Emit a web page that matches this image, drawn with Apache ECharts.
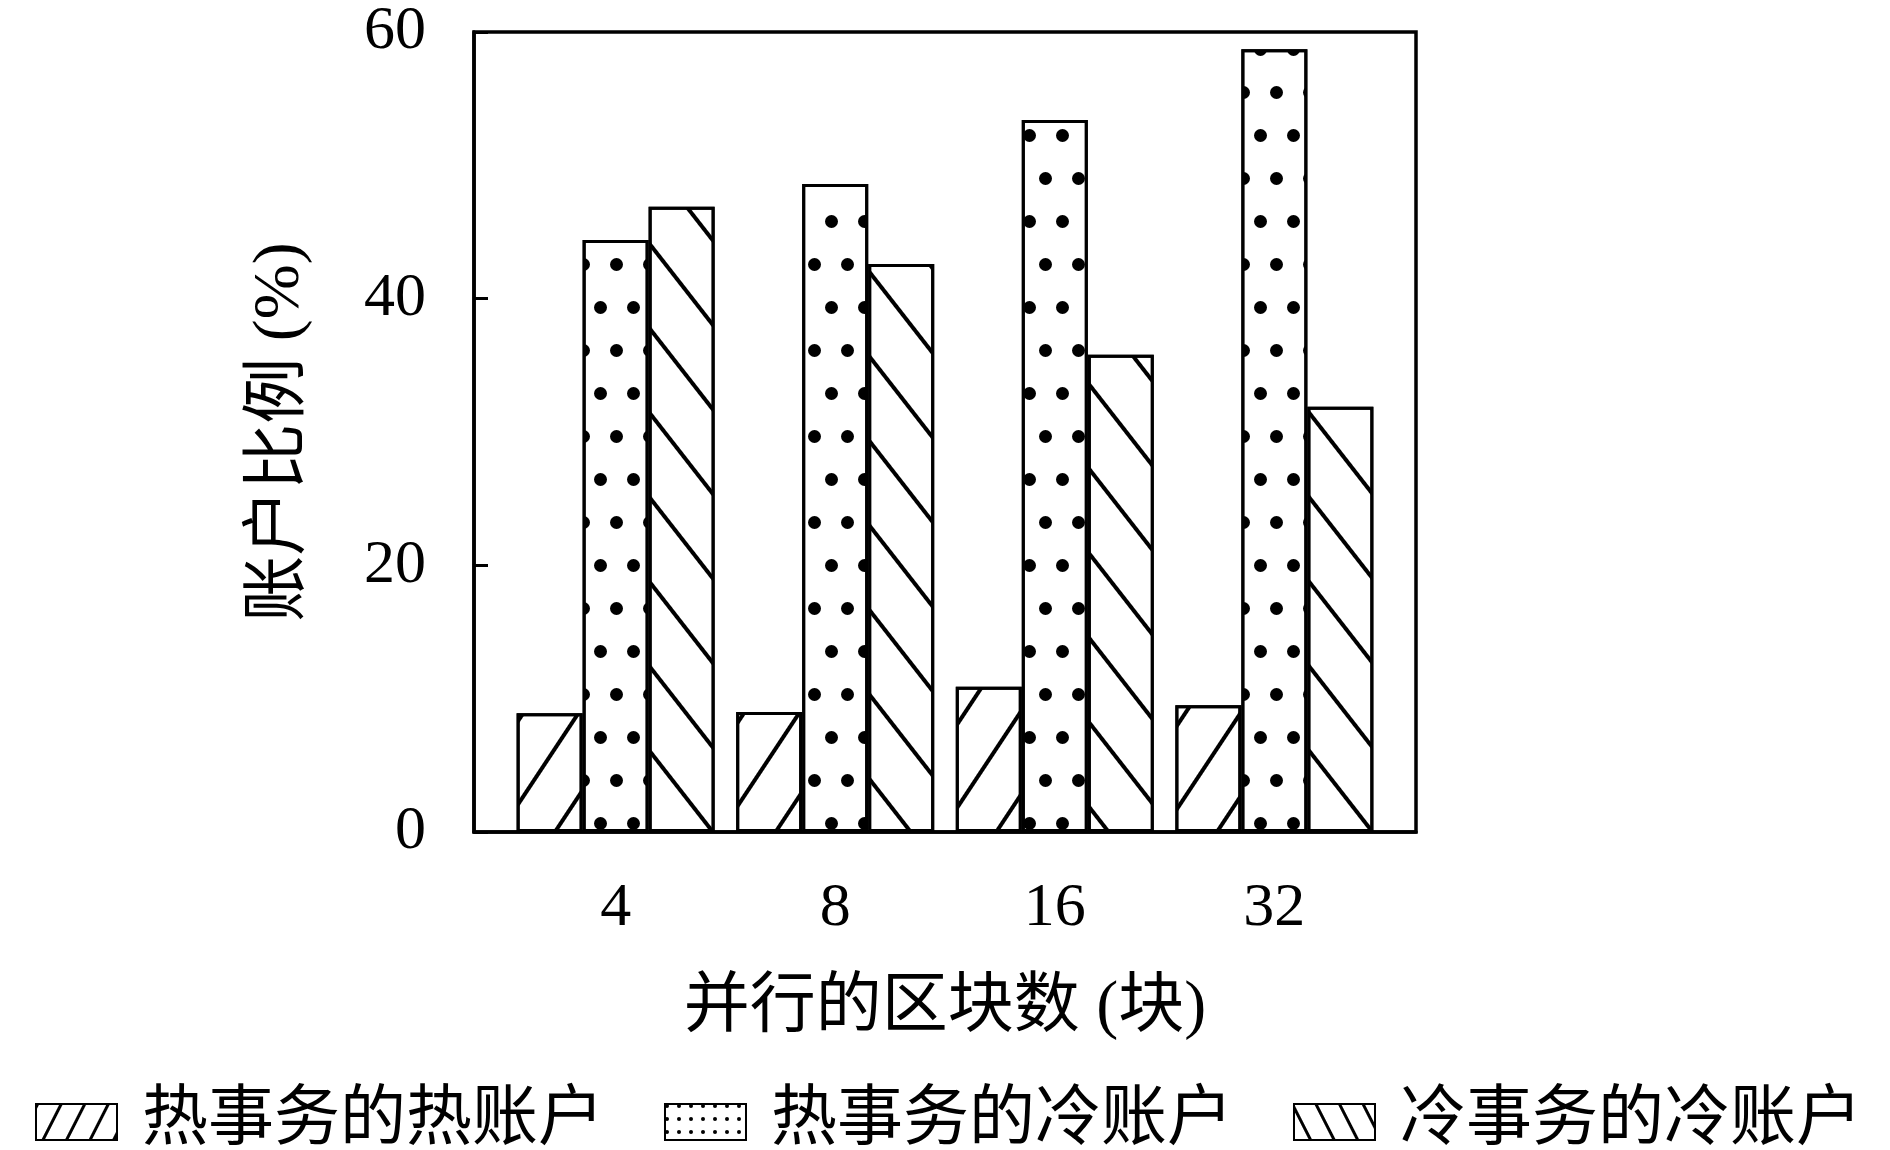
<!DOCTYPE html>
<html>
<head>
<meta charset="utf-8">
<title>账户比例</title>
<script src="https://cdn.jsdelivr.net/npm/echarts@6/dist/echarts.min.js"></script>
<style>
  html, body { margin: 0; padding: 0; background: #fff; }
  #chart { width: 1890px; height: 1150px; }
</style>
</head>
<body>
<div id="chart"></div>
<script>
// 数据
var blockCounts = ['4', '8', '16', '32'];
var hotTxHotAcc = [8.9, 9.0, 10.9, 9.5];
var hotTxColdAcc = [44.4, 48.6, 53.4, 58.7];
var coldTxColdAcc = [46.9, 42.6, 35.8, 31.9];
var yTicks = [0, 20, 40, 60];
var seriesNames = ['热事务的热账户', '热事务的冷账户', '冷事务的冷账户'];

var FONT = '"Liberation Serif", "Noto Sans CJK SC", serif';

// 纹理
var slashDecal = { symbol: 'rect', color: '#000', dashArrayX: [1, 0], dashArrayY: [4, 42], rotation: -0.986 };
var dotDecal = { symbol: 'circle', color: '#000', symbolSize: 1, dashArrayX: [[13, 20], [0, 16, 13, 4]], dashArrayY: [13, 30] };
var backDecal = { symbol: 'rect', color: '#000', dashArrayX: [1, 0], dashArrayY: [4, 48], rotation: 0.908 };
var decals = [slashDecal, dotDecal, backDecal];

// 图例里用更密的纹理
var legendDecals = [
  { symbol: 'rect', color: '#000', dashArrayX: [1, 0], dashArrayY: [3, 18], rotation: -1.1 },
  { symbol: 'circle', color: '#000', symbolSize: 1, dashArrayX: [4, 8], dashArrayY: [4, 9] },
  { symbol: 'rect', color: '#000', dashArrayX: [1, 0], dashArrayY: [3, 18], rotation: 1.1 }
];

function toPoints(arr) {
  return arr.map(function (v, i) { return [i + 1, v]; });
}
var allValues = [hotTxHotAcc, hotTxColdAcc, coldTxColdAcc];

var series = [];
for (var s = 0; s < 3; s++) {
  series.push({
    name: seriesNames[s],
    type: 'bar',
    data: toPoints(allValues[s]),
    barWidth: 66,
    barGap: '0%',
    itemStyle: { color: '#fff', borderColor: '#000', borderWidth: 3, decal: decals[s] }
  });
}

var myChart = echarts.init(document.getElementById('chart'), null, { renderer: 'canvas' });
var option = {
  animation: false,
  backgroundColor: '#fff',
  grid: {
    left: 474, right: 474, top: 32, bottom: 318,
    show: true, borderColor: '#000', borderWidth: 3.5, backgroundColor: 'transparent'
  },
  legend: {
    left: 30, top: 1084,
    itemWidth: 81, itemHeight: 36, itemGap: 60,
    icon: 'rect',
    textStyle: { fontFamily: FONT, fontSize: 66, color: '#000', padding: [0, 0, 0, 20] },
    data: seriesNames.map(function (n, i) {
      return { name: n, itemStyle: { decal: legendDecals[i] } };
    })
  },
  xAxis: {
    type: 'value',
    min: 0.355, max: 4.645,
    splitLine: { show: false },
    axisLine: { show: true, onZero: false, lineStyle: { color: '#000', width: 3.5 } },
    axisTick: { show: false },
    axisLabel: {
      customValues: [1, 2, 3, 4],
      formatter: function (v) { return blockCounts[Math.round(v) - 1]; },
      fontFamily: FONT, fontSize: 62, color: '#000', margin: 46
    },
    name: '并行的区块数 (块)',
    nameLocation: 'middle',
    nameGap: 144,
    nameTextStyle: { fontFamily: FONT, fontSize: 66, color: '#000' }
  },
  yAxis: {
    type: 'value',
    min: yTicks[0], max: yTicks[yTicks.length - 1], interval: 20,
    splitLine: { show: false },
    axisLine: { show: true, lineStyle: { color: '#000', width: 3.5 } },
    axisTick: { show: true, inside: true, length: 14, lineStyle: { color: '#000', width: 3 } },
    axisLabel: { fontFamily: FONT, fontSize: 62, color: '#000', margin: 48 },
    name: '账户比例 (%)',
    nameLocation: 'middle',
    nameGap: 160,
    nameTextStyle: { fontFamily: FONT, fontSize: 66, color: '#000' }
  },
  series: series
};
myChart.setOption(option);
</script>
</body>
</html>
